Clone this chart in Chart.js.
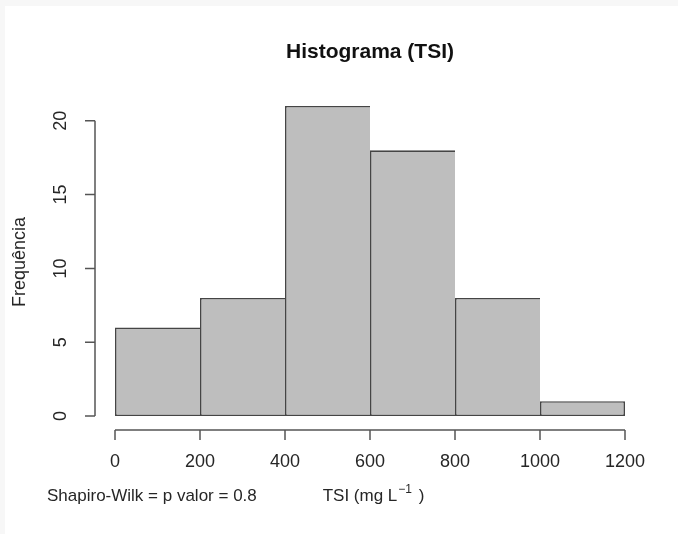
<!DOCTYPE html>
<html>
<head>
<meta charset="utf-8">
<script src="https://cdn.jsdelivr.net/npm/chart.js@4"></script>
<style>
  html, body { margin: 0; padding: 0; background: #f7f7f7; width: 678px; height: 534px; overflow: hidden; }
  #frame { position: absolute; left: 5px; top: 6px; width: 673px; height: 528px; background: #ffffff; }
  canvas { display: block; }
</style>
</head>
<body>
<div id="frame"><canvas id="hist" width="673" height="528"></canvas></div>
<script>
// Histogram of TSI: bin centres and counts, plus the axis tick values
const binCenters = [100, 300, 500, 700, 900, 1100];
const frequencies = [6, 8, 21, 18, 8, 1];
const xTicks = [0, 200, 400, 600, 800, 1000, 1200];
const yTicks = [0, 5, 10, 15, 20];

const FONT = "'Liberation Sans', Arial, Helvetica, sans-serif";
const INK = '#262626';
const AXIS = '#555555';

// Base-R style detached axes, labels and the note under the plot
const rAxes = {
  id: 'rAxes',
  afterDraw(chart) {
    const { ctx, scales: { x, y } } = chart;
    const axisY = y.getPixelForValue(0) + 14;
    const axisX = x.getPixelForValue(0) - 20;
    const tick = 10;
    ctx.save();
    ctx.strokeStyle = AXIS;
    ctx.lineWidth = 1.5;
    ctx.lineCap = 'butt';

    // x axis
    ctx.beginPath();
    ctx.moveTo(x.getPixelForValue(xTicks[0]), axisY);
    ctx.lineTo(x.getPixelForValue(xTicks[xTicks.length - 1]), axisY);
    xTicks.forEach(v => {
      const px = x.getPixelForValue(v);
      ctx.moveTo(px, axisY);
      ctx.lineTo(px, axisY + tick);
    });
    ctx.stroke();

    // y axis
    ctx.beginPath();
    ctx.moveTo(axisX, y.getPixelForValue(yTicks[0]));
    ctx.lineTo(axisX, y.getPixelForValue(yTicks[yTicks.length - 1]));
    yTicks.forEach(v => {
      const py = y.getPixelForValue(v);
      ctx.moveTo(axisX, py);
      ctx.lineTo(axisX - tick, py);
    });
    ctx.stroke();

    ctx.fillStyle = INK;
    ctx.textAlign = 'center';
    ctx.textBaseline = 'middle';

    // x tick labels
    ctx.font = `18px ${FONT}`;
    xTicks.forEach(v => {
      ctx.fillText(String(v), x.getPixelForValue(v), axisY + 32);
    });

    // y tick labels, rotated like base R
    yTicks.forEach(v => {
      ctx.save();
      ctx.translate(axisX - 34, y.getPixelForValue(v));
      ctx.rotate(-Math.PI / 2);
      ctx.fillText(String(v), 0, 0);
      ctx.restore();
    });

    // y axis title
    const midY = (chart.chartArea.top + chart.chartArea.bottom) / 2;
    ctx.save();
    ctx.translate(15, midY + 1);
    ctx.rotate(-Math.PI / 2);
    ctx.font = `18px ${FONT}`;
    ctx.fillText('Frequência', 0, 0);
    ctx.restore();

    // x axis title with superscript
    const midX = (chart.chartArea.left + chart.chartArea.right) / 2;
    const baseY = axisY + 71;
    ctx.textBaseline = 'alphabetic';
    ctx.textAlign = 'left';
    const mainFont = `17px ${FONT}`;
    const supFont = `12px ${FONT}`;
    const partA = 'TSI (mg L';
    const partSup = '\u22121';
    const partB = ' )';
    ctx.font = mainFont;
    const wA = ctx.measureText(partA).width;
    const wB = ctx.measureText(partB).width;
    ctx.font = supFont;
    const wS = ctx.measureText(partSup).width + 2;
    let cx = midX - (wA + wS + wB) / 2 + 3;
    ctx.font = mainFont;
    ctx.fillText(partA, cx, baseY);
    cx += wA + 1;
    ctx.font = supFont;
    ctx.fillText(partSup, cx, baseY - 8);
    cx += wS;
    ctx.font = mainFont;
    ctx.fillText(partB, cx, baseY);

    // normality test note
    ctx.font = `17px ${FONT}`;
    ctx.textBaseline = 'middle';
    ctx.fillText('Shapiro-Wilk = p valor = 0.8', 42, axisY + 66);

    ctx.restore();
  }
};

const lastIndex = frequencies.length - 1;

new Chart(document.getElementById('hist'), {
  type: 'bar',
  data: {
    datasets: [{
      data: binCenters.map((c, i) => ({ x: c, y: frequencies[i] })),
      backgroundColor: '#bebebe',
      borderColor: '#454545',
      borderWidth: ctx => ({
        top: 1.6,
        bottom: 1.6,
        left: 1.6,
        right: ctx.dataIndex === lastIndex ? 1.6 : 0
      }),
      borderSkipped: false,
      inflateAmount: 0,
      barPercentage: 1,
      categoryPercentage: 1,
      clip: false
    }]
  },
  options: {
    responsive: false,
    animation: false,
    events: [],
    layout: { padding: { left: 110, right: 53, top: 30, bottom: 118 } },
    plugins: {
      legend: { display: false },
      tooltip: { enabled: false },
      title: {
        display: true,
        text: 'Histograma (TSI)',
        color: '#111111',
        font: { family: FONT, size: 21, weight: 'bold', lineHeight: 1.2 },
        padding: { top: 4, bottom: 40.8 }
      }
    },
    scales: {
      x: {
        type: 'linear',
        display: false,
        offset: false,
        min: 0,
        max: 1200,
        ticks: { stepSize: 200 }
      },
      y: {
        display: false,
        min: 0,
        max: 21,
        ticks: { stepSize: 5 }
      }
    }
  },
  plugins: [rAxes]
});
</script>
</body>
</html>
